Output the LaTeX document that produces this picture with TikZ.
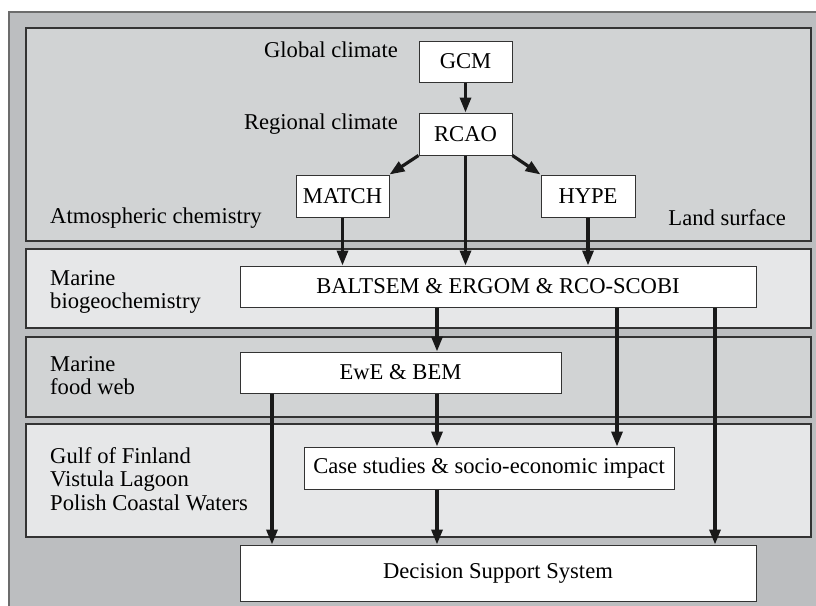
\documentclass[tikz,border=0pt]{standalone}
\usepackage{fontspec}
\setmainfont{Liberation Serif}
\newfontfamily\timesfont{Liberation Serif}
\usetikzlibrary{arrows.meta}
\definecolor{outerg}{HTML}{BCBEC0}
\definecolor{midg}{HTML}{D1D3D4}
\definecolor{lightg}{HTML}{E6E7E8}
\definecolor{edgec}{HTML}{333333}
\begin{document}
\begin{tikzpicture}[x=1pt,y=-1pt,
  font=\timesfont\fontsize{22.6}{23.5}\selectfont,
  panel/.style={draw=edgec, line width=1.2pt},
  box/.style={draw=edgec, fill=white, line width=1pt, inner sep=0pt},
  arr/.style={draw=black!90, line width=3.2pt, -{Triangle[length=15pt,width=11pt]}},
  lbl/.style={inner sep=0pt, align=left, text=black}]
\useasboundingbox (0,0) rectangle (816,605);
\fill[white] (0,0) rectangle (816,605);
\filldraw[fill=outerg, draw=gray!85!black, line width=1.5pt] (9,12) rectangle (840,640);
% panels
\filldraw[panel, fill=midg]   (26,28)  rectangle (811,241);
\filldraw[panel, fill=lightg] (26,249) rectangle (811,328);
\filldraw[panel, fill=midg]   (26,337) rectangle (811,417);
\filldraw[panel, fill=lightg] (26,424) rectangle (811,537);
% labels
\node[lbl, anchor=base east] (lglobal) at (398,57) {Global climate};
\node[lbl, anchor=base east] (lregional) at (398,129) {Regional climate};
\node[lbl, anchor=base west] (latm) at (50,223) {Atmospheric chemistry};
\node[lbl, anchor=base east] (lland) at (786,225) {Land surface};
\node[lbl, anchor=north west] (lmbio) at (50,270) {Marine\\biogeochemistry};
\node[lbl, anchor=north west] (lmfood) at (50,356) {Marine\\food web};
\node[lbl, anchor=north west] (lgulf) at (50,447) {Gulf of Finland\\Vistula Lagoon\\Polish Coastal Waters};
% boxes
\node[box, minimum width=93pt, minimum height=41pt] (gcm) at (465.5,61.5) {GCM};
\node[box, minimum width=93pt, minimum height=42pt] (rcao) at (465.5,134) {RCAO};
\node[box, minimum width=93pt, minimum height=42pt] (match) at (342.5,196) {MATCH};
\node[box, minimum width=94pt, minimum height=42pt] (hype) at (588,196) {HYPE};
\node[box, minimum width=516pt, minimum height=41pt] (balt) at (498,286.5) {BALTSEM \& ERGOM \& RCO-SCOBI};
\node[box, minimum width=321pt, minimum height=41pt] (ewe) at (400.5,372.5) {EwE \& BEM};
\node[box, minimum width=370pt, minimum height=42pt] (case) at (489,468) {Case studies \& socio-economic impact};
\node[box, minimum width=516pt, minimum height=56pt] (dss) at (498,573) {Decision Support System};
% column coordinates
\coordinate (c437) at (437,0);
\coordinate (c617) at (617,0);
\coordinate (c715) at (715,0);
\coordinate (c272) at (272,0);
% arrows
\draw[arr] (gcm) -- (rcao);
\draw[arr] (rcao.south west) -- (match.north east);
\draw[arr] (rcao.south east) -- (hype.north west);
\draw[arr] (rcao.south) -- (balt.north -| rcao.south);
\draw[arr] (match.south) -- (balt.north -| match.south);
\draw[arr] (hype.south) -- (balt.north -| hype.south);
\draw[arr] (balt.south -| c437) -- (ewe.north -| c437);
\draw[arr] (balt.south -| c617) -- (case.north -| c617);
\draw[arr] (balt.south -| c715) -- (dss.north -| c715);
\draw[arr] (ewe.south -| c437) -- (case.north -| c437);
\draw[arr] (ewe.south -| c272) -- (dss.north -| c272);
\draw[arr] (case.south -| c437) -- (dss.north -| c437);
\end{tikzpicture}
\end{document}
